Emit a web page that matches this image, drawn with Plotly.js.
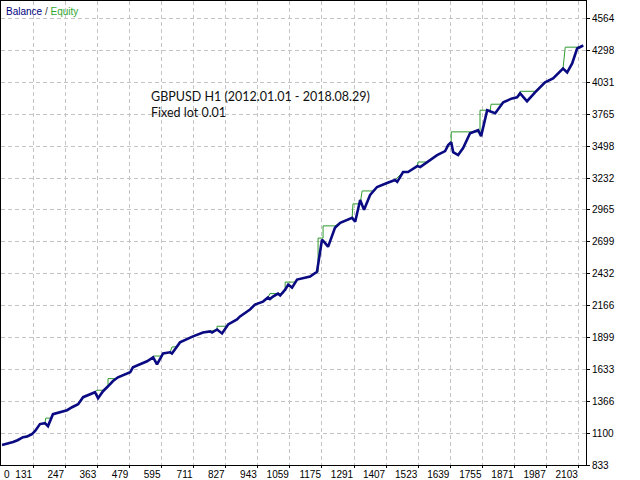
<!DOCTYPE html>
<html>
<head>
<meta charset="utf-8">
<script src="https://cdn.plot.ly/plotly-3.0.1.min.js"></script>
<style>html,body{margin:0;padding:0;background:#fff;}#chart{width:640px;height:480px;}</style>
</head>
<body>
<div id="chart"></div>
<script>
// Trade numbers and values
const balanceTrades = [19,40,59,75,95,110,127,138,156,174,185,203,230,254,272,294,312,335,355,366,384,402,420,438,460,482,492,520,543,565,579,601,626,633,651,662,709,745,771,778,796,814,836,868,879,915,933,962,980,987,998,1016,1024,1042,1053,1067,1085,1132,1157,1165,1175,1186,1197,1222,1241,1284,1295,1313,1327,1349,1374,1410,1439,1447,1468,1486,1519,1530,1555,1591,1620,1631,1642,1649,1667,1685,1710,1739,1750,1772,1801,1830,1862,1880,1891,1916,1945,1981,2010,2046,2061,2079,2097,2119];
const balanceValues = [1000,1012,1025,1040,1066,1072,1091,1116,1175,1183,1158,1258,1275,1291,1316,1341,1400,1425,1441,1391,1450,1491,1535,1566,1590,1608,1650,1678,1700,1733,1675,1766,1775,1765,1825,1858,1908,1941,1950,1940,1966,1933,2008,2050,2075,2133,2174,2199,2233,2220,2241,2266,2250,2299,2341,2316,2383,2408,2449,2574,2716,2690,2657,2816,2857,2899,2866,3049,2966,3091,3157,3190,3216,3200,3282,3282,3332,3324,3366,3424,3457,3507,3532,3449,3424,3482,3607,3632,3582,3799,3774,3865,3898,3907,3940,3874,3948,4032,4065,4148,4115,4190,4315,4340];

const equityTrades = [19,59,95,127,138,156,174,177,199,203,254,272,294,312,355,361,379,384,402,402,435,438,482,492,543,565,568,598,601,626,633,651,662,709,745,771,796,796,832,836,868,879,915,933,962,980,987,1034,1042,1042,1080,1085,1132,1157,1161,1161,1179,1179,1222,1241,1284,1287,1313,1320,1360,1374,1410,1439,1468,1486,1519,1522,1558,1591,1620,1631,1642,1642,1746,1746,1783,1786,1819,1830,1862,1880,1891,1945,1981,2010,2046,2054,2097,2119];
const equityValues = [1000,1025,1066,1091,1116,1175,1183,1225,1225,1258,1291,1316,1341,1400,1441,1458,1458,1458,1491,1555,1555,1566,1608,1650,1700,1733,1744,1744,1766,1775,1819,1822,1858,1908,1941,1950,1966,1993,1993,2008,2050,2075,2133,2174,2199,2233,2266,2266,2299,2362,2362,2383,2408,2449,2449,2730,2730,2832,2832,2857,2899,3016,3016,3124,3124,3157,3190,3216,3282,3282,3332,3366,3366,3424,3457,3507,3532,3618,3618,3799,3799,3849,3849,3865,3898,3907,3957,3957,4032,4065,4148,4326,4326,4340];

const xTickVals = [131,247,363,479,595,711,827,943,1059,1175,1291,1407,1523,1639,1755,1871,1987,2103];
const xTickText = ["131","247","363","479","595","711","827","943","1059","1175","1291","1407","1523","1639","1755","1871","1987","2103"];
const yTickVals = [833,1100,1366,1633,1899,2166,2432,2699,2965,3232,3498,3765,4031,4298,4564];
const yTickText = ["833","1100","1366","1633","1899","2166","2432","2699","2965","3232","3498","3765","4031","4298","4564"];

const xRange = [15.3, 2129];
const yRange = [833, 4712];

const tickFont = {family: "Liberation Sans, Arial, sans-serif", size: 10, color: "#000"};

const traces = [
  {x: equityTrades, y: equityValues, type: "scatter", mode: "lines", name: "Equity",
   line: {color: "#2f9a2f", width: 1}, hoverinfo: "skip"},
  {x: balanceTrades, y: balanceValues, type: "scatter", mode: "lines", name: "Balance",
   line: {color: "#0a0a82", width: 2.6}, hoverinfo: "skip"}
];

const layout = {
  width: 640, height: 480,
  margin: {l: 1, r: 54, t: 1, b: 15, pad: 0},
  paper_bgcolor: "#fff", plot_bgcolor: "#fff",
  showlegend: false,
  xaxis: {
    range: xRange, tickmode: "array", tickvals: xTickVals, ticktext: xTickText,
    ticklabelposition: "outside left", ticks: "outside", ticklen: 2, tickcolor: "#000",
    showgrid: true, gridcolor: "#c4c4c4", griddash: "4px,3px", gridwidth: 1,
    showline: true, linecolor: "#000", linewidth: 1, mirror: true,
    zeroline: false, tickfont: tickFont, fixedrange: true
  },
  yaxis: {
    range: yRange, side: "right", tickmode: "array", tickvals: yTickVals, ticktext: yTickText,
    ticks: "outside", ticklen: 3, tickcolor: "#000",
    showgrid: true, gridcolor: "#c4c4c4", griddash: "4px,3px", gridwidth: 1,
    showline: true, linecolor: "#000", linewidth: 1, mirror: true,
    zeroline: false, tickfont: tickFont, fixedrange: true
  },
  annotations: [
    {xref: "paper", yref: "paper", x: 0, y: 1, xanchor: "left", yanchor: "top",
     xshift: 3, yshift: -3, showarrow: false, align: "left",
     font: {family: "Liberation Sans, Arial, sans-serif", size: 10},
     text: '<span style="color:#000080">Balance</span><span style="color:#333"> / </span><span style="color:#2fa52f">Equity</span>'},
    {xref: "x", yref: "paper", x: xRange[0], y: 0, xanchor: "left", yanchor: "top",
     xshift: 1, yshift: -2, showarrow: false,
     font: tickFont, text: "0"},
    {xref: "paper", yref: "paper", x: 0.253, y: 0.815, xanchor: "left", yanchor: "top",
     showarrow: false, align: "left",
     font: {family: "Lato, Open Sans, sans-serif", size: 12.5, color: "#111"},
     text: "GBPUSD H1 (2012.01.01 - 2018.08.29)<br>Fixed lot 0.01"}
  ]
};

Plotly.newPlot("chart", traces, layout, {staticPlot: true, displayModeBar: false});
</script>
</body>
</html>
